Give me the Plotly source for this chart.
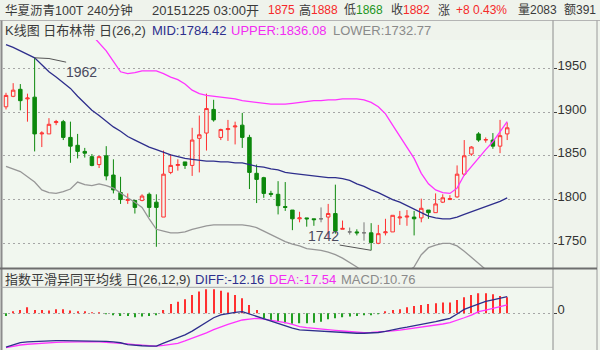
import plotly.graph_objects as go

# ---------------- data ----------------
opens = [1906, 1918, 1926, 1915, 1917, 1875, 1875, 1888, 1889, 1871,
         1862, 1855, 1849, 1840, 1850, 1828, 1808, 1799, 1799, 1799,
         1806, 1797, 1780, 1831, 1839, 1843, 1839, 1870, 1876, 1903,
         1871, 1880, 1883, 1885, 1871, 1830, 1825, 1807, 1806, 1792,
         1788, 1778, 1779, 1778, 1778, 1780, 1784, 1766, 1763, 1763,
         1762, 1762, 1750, 1762, 1763, 1779, 1780, 1780, 1779, 1788,
         1785, 1797, 1800, 1803, 1829, 1852, 1875, 1868, 1868, 1861,
         1875]
highs = [1922, 1933, 1932, 1921, 1962, 1878, 1893, 1891, 1891, 1889,
         1875, 1859, 1852, 1850, 1861, 1846, 1826, 1807, 1799, 1806,
         1808, 1806, 1856, 1852, 1846, 1843, 1882, 1896, 1921, 1914,
         1881, 1891, 1889, 1899, 1874, 1840, 1826, 1810, 1821, 1820,
         1788, 1786, 1779, 1778, 1791, 1795, 1817, 1776, 1768, 1766,
         1774, 1773, 1771, 1778, 1782, 1787, 1788, 1787, 1801, 1788,
         1807, 1806, 1805, 1839, 1868, 1861, 1877, 1871, 1876, 1891,
         1888]
lows = [1903, 1917, 1902, 1889, 1855, 1860, 1875, 1885, 1868, 1842,
        1847, 1848, 1838, 1836, 1822, 1807, 1795, 1795, 1784, 1798,
        1780, 1746, 1780, 1829, 1833, 1835, 1827, 1831, 1856, 1889,
        1868, 1867, 1863, 1859, 1812, 1796, 1802, 1803, 1783, 1787,
        1765, 1774, 1769, 1770, 1774, 1756, 1761, 1766, 1760, 1759,
        1753, 1742, 1749, 1759, 1763, 1771, 1770, 1759, 1774, 1778,
        1785, 1796, 1800, 1802, 1827, 1850, 1866, 1865, 1858, 1853,
        1868]
closes = [1919, 1925, 1913, 1916, 1875, 1876, 1886, 1889, 1871, 1861,
          1855, 1853, 1839, 1849, 1827, 1811, 1800, 1800, 1791, 1804,
          1791, 1791, 1829, 1839, 1840, 1839, 1868, 1874, 1904, 1891,
          1880, 1881, 1884, 1871, 1831, 1823, 1807, 1806, 1793, 1791,
          1778, 1779, 1778, 1777, 1778, 1784, 1764, 1767, 1763, 1762,
          1762, 1751, 1761, 1763, 1782, 1780, 1781, 1778, 1790, 1785,
          1795, 1802, 1801, 1829, 1850, 1860, 1868, 1868.5, 1861, 1873,
          1882]

boll_mid = [1977, 1974, 1970, 1966, 1962, 1954, 1946, 1940, 1933, 1927,
            1918, 1910, 1902, 1896, 1889, 1883, 1878, 1872, 1868, 1864,
            1860, 1857, 1854, 1851, 1849, 1847, 1846, 1845, 1844, 1844,
            1843, 1843, 1842, 1842, 1840, 1838, 1837, 1835, 1834, 1831,
            1830, 1829, 1828, 1827, 1826, 1825, 1825, 1824, 1822, 1818,
            1815, 1811, 1808, 1804, 1800, 1797, 1793, 1789, 1785, 1781,
            1779, 1778, 1778, 1780, 1783, 1786, 1789, 1792, 1795, 1798,
            1802]
boll_upper = [2116, 2110, 2105, 2100, 2095, 2090, 2080, 2065, 2050, 2032,
              2015, 2000, 1988, 1979, 1970, 1958, 1946, 1944, 1945, 1947,
              1947, 1947, 1944, 1940, 1937, 1932, 1925, 1921, 1919, 1918,
              1917, 1916, 1915, 1913, 1912, 1911, 1910, 1909, 1909, 1909,
              1910, 1911, 1912, 1913, 1913, 1914, 1914, 1915, 1915, 1915,
              1914, 1911, 1906, 1898, 1885, 1872, 1860, 1847, 1830, 1818,
              1811, 1808, 1807, 1813, 1828, 1838, 1848, 1857, 1866, 1877,
              1889]
boll_lower = [1838, 1835, 1832, 1826, 1820, 1811, 1808, 1807, 1809, 1812,
              1820, 1817, 1816, 1818, 1816, 1813, 1807, 1802, 1797, 1791,
              1778, 1766, 1764, 1762, 1762, 1763, 1766, 1768, 1770, 1771,
              1771, 1771, 1771, 1771, 1770, 1768, 1764, 1760, 1756, 1752,
              1749, 1747, 1744, 1743, 1742, 1740, 1737, 1733, 1728, 1723,
              1716, 1712, 1709, 1708, 1710, 1713, 1717, 1723, 1737, 1745,
              1748, 1750, 1750, 1747, 1741, 1734, 1726, 1720, 1715, 1711,
              1708]

diff_line = [-22.8, -21.2, -19.7, -19.2, -18.9, -18.6, -18.4, -18.4, -18.3, -18.3,
             -18.4, -18.4, -18.4, -18.5, -18.8, -19.2, -19.8, -21.0, -21.6, -21.8,
             -22.0, -22.0, -20.0, -18.2, -16.5, -14.5, -12.0, -9.0, -5.6, -3.0,
             -1.0, 0.0, 0.6, 1.1, -0.5, -2.2, -3.8, -5.3, -7.0, -8.5,
             -10.0, -11.2, -11.5, -11.8, -12.0, -12.4, -12.8, -13.1, -13.4, -13.4,
             -13.4, -13.4, -12.9, -12.2, -11.0, -10.1, -9.3, -8.5, -7.6, -6.8,
             -5.6, -4.5, -3.4, -0.5, 2.6, 4.5, 6.5, 8.0, 9.0, 10.0,
             11.2]
dea_line = [-23.0, -22.0, -21.3, -20.8, -20.4, -20.0, -19.8, -19.6, -19.4, -19.2,
            -19.0, -19.0, -19.1, -19.2, -19.4, -19.6, -20.0, -20.5, -21.0, -21.5,
            -21.8, -22.0, -21.5, -20.8, -20.2, -18.6, -16.8, -15.2, -13.2, -11.0,
            -9.0, -7.5, -6.0, -4.5, -3.9, -3.4, -3.9, -4.6, -5.4, -6.3,
            -7.5, -9.0, -9.6, -10.2, -10.7, -11.1, -11.5, -11.9, -12.3, -12.7,
            -13.0, -12.8, -12.6, -12.3, -11.8, -11.3, -10.7, -10.1, -9.4, -8.7,
            -8.1, -7.2, -6.2, -4.8, -3.0, -1.2, 1.1, 2.2, 3.3, 4.5,
            5.6]
macd_hist = [-1.8, 1.1, 2.2, 4.0, 2.2, 2.2, 1.8, 2.7, 2.7, 1.8,
             1.1, 0.7, 0.2, 0.2, -0.2, -0.7, -1.8, -1.8, -2.7, -2.2,
             -1.8, -1.1, 2.2, 6.3, 7.8, 9.4, 12.3, 14.6, 16.1, 16.1,
             15.2, 13.9, 12.3, 10.1, 5.6, 2.2, -3.4, -4.5, -5.6, -6.7,
             -7.0, -6.7, -6.7, -6.3, -5.6, -4.0, -3.4, -2.7, -2.2, -1.8,
             -1.1, -0.7, -0.4, 0.7, 2.2, 2.7, 4.0, 4.9, 5.6, 6.3,
             6.7, 7.2, 7.2, 9.0, 10.8, 12.3, 13.4, 13.4, 12.8, 11.6,
             10.8]

price_ticks = [1750, 1800, 1850, 1900, 1950]
price_tick_labels = ["1750", "1800", "1850", "1900", "1950"]
macd_ticks = [0]
macd_tick_labels = ["0"]

header_parts = [  # (text, colour key, left x in px, font size)
    ("华夏沥青100T", "txt", 3, 12.5), ("240分钟", "txt", 85, 12.5),
    ("20151225 03:00开", "txt", 150, 13), ("1875", "red", 266, 12),
    ("高", "txt", 297, 12), ("1888", "red", 309, 12), ("低", "txt", 342, 12),
    ("1868", "green", 354, 12), ("收", "txt", 389, 12), ("1882", "red", 401, 12),
    ("涨", "txt", 436, 12), ("+8 0.43%", "red", 454, 12), ("量2083", "txt", 516, 12),
    ("额391", "txt", 562, 12),
]
boll_parts = [
    ("K线图 日布林带 日(26,2)", "txt", 3, 13), ("MID:1784.42", "navy", 150, 13),
    ("UPPER:1836.08", "mag", 229, 13), ("LOWER:1732.77", "gray", 331, 13),
]
macd_parts = [
    ("指数平滑异同平均线 日(26,12,9)", "txt", 3, 13), ("DIFF:-12.16", "navy", 193, 13),
    ("DEA:-17.54", "mag", 267, 13), ("MACD:10.76", "gray", 339, 13),
]

# ---------------- styles ----------------
W, H = 600, 350
BG = "#EFF3EC"
PLOT_BG = "#F1F7EF"
COL = {"txt": "#3A3A3A", "red": "#F52A2A", "green": "#1E961E",
       "navy": "#2E2E8C", "mag": "#F22CF2", "gray": "#8A8A8A"}
C_UP = "#FF3030"
C_DN = "#0C880C"
C_FLAT = "#7A7A7A"
FONT = "Liberation Sans, Noto Sans CJK SC, sans-serif"

n = len(closes)
xs = list(range(n))

fig = go.Figure()


def add_candles(idx, color, fill):
    fig.add_trace(go.Candlestick(
        x=[xs[i] for i in idx], open=[opens[i] for i in idx],
        high=[highs[i] for i in idx], low=[lows[i] for i in idx],
        close=[closes[i] for i in idx],
        increasing=dict(line=dict(color=color, width=1), fillcolor=fill),
        decreasing=dict(line=dict(color=color, width=1), fillcolor=fill),
        whiskerwidth=0, xaxis="x", yaxis="y", hoverinfo="skip"))


up_idx = [i for i in xs if closes[i] > opens[i]]
dn_idx = [i for i in xs if closes[i] < opens[i]]
fl_idx = [i for i in xs if closes[i] == opens[i]]
add_candles(up_idx, C_UP, PLOT_BG)
add_candles(dn_idx, C_DN, C_DN)
if fl_idx:
    add_candles(fl_idx, C_FLAT, C_FLAT)

fig.add_trace(go.Scatter(x=xs, y=boll_lower, mode="lines",
                         line=dict(color="#979797", width=1.3), xaxis="x", yaxis="y"))
fig.add_trace(go.Scatter(x=xs, y=boll_mid, mode="lines",
                         line=dict(color=COL["navy"], width=1.3), xaxis="x", yaxis="y"))
fig.add_trace(go.Scatter(x=xs, y=boll_upper, mode="lines",
                         line=dict(color="#FF33FF", width=1.3), xaxis="x", yaxis="y"))

# high / low markers with leader lines
hi_i = max(xs, key=lambda i: highs[i])
lo_i = min(xs, key=lambda i: lows[i])
fig.add_trace(go.Scatter(
    x=[hi_i, hi_i + 2, hi_i + 4.4], y=[highs[hi_i], highs[hi_i] - 0.8, highs[hi_i] - 5],
    mode="lines", line=dict(color="#555555", width=1), xaxis="x", yaxis="y"))
fig.add_trace(go.Scatter(
    x=[lo_i - 4.4, lo_i], y=[lows[lo_i] + 6, lows[lo_i]],
    mode="lines", line=dict(color="#555555", width=1), xaxis="x", yaxis="y"))

# MACD panel
fig.add_trace(go.Bar(x=xs, y=macd_hist, width=0.16,
                     marker=dict(color=[C_UP if v > 0 else "#22A022" for v in macd_hist],
                                 line=dict(width=0)),
                     xaxis="x", yaxis="y2"))
fig.add_trace(go.Scatter(x=xs, y=dea_line, mode="lines",
                         line=dict(color="#FF33FF", width=1.3), xaxis="x", yaxis="y2"))
fig.add_trace(go.Scatter(x=xs, y=diff_line, mode="lines",
                         line=dict(color=COL["navy"], width=1.3), xaxis="x", yaxis="y2"))

# ---------------- layout ----------------
x_left, x_right = 3, 553
first_px, step_px = 6, 7.16
main_top, main_bot = 40, 268
macd_top = 287.3

ann = []
for parts, ypx in ((header_parts, 10), (boll_parts, 30), (macd_parts, 279)):
    for text, ck, xpx, fs in parts:
        ann.append(dict(text=text, x=xpx / W, y=1 - ypx / H, xref="paper", yref="paper",
                        xanchor="left", yanchor="middle", showarrow=False,
                        font=dict(family=FONT, size=fs, color=COL[ck])))
ann.append(dict(text=str(int(highs[hi_i])), x=hi_i + 6.6, y=highs[hi_i] - 16, xref="x", yref="y",
                showarrow=False, font=dict(family=FONT, size=14, color="#4A4A5E")))
ann.append(dict(text=str(int(lows[lo_i])), x=lo_i - 6.7, y=lows[lo_i] + 16, xref="x", yref="y",
                showarrow=False, font=dict(family=FONT, size=14, color="#4A4A5E")))

shapes = []


def hline(ypx, x0, x1, color, w):
    shapes.append(dict(type="line", xref="paper", yref="paper", x0=x0 / W, x1=x1 / W,
                       y0=1 - ypx / H, y1=1 - ypx / H, line=dict(color=color, width=w)))


def vline(xpx, y0, y1, color, w):
    shapes.append(dict(type="line", xref="paper", yref="paper", x0=xpx / W, x1=xpx / W,
                       y0=1 - y0 / H, y1=1 - y1 / H, line=dict(color=color, width=w)))


hline(20.5, 0, 600, "#B4B4B4", 1)
vline(1.5, 20.5, 350, "#8C8C8C", 2)
vline(553, 20.5, 350, "#8C8C8C", 1)
vline(597, 20.5, 350, "#9A9A9A", 1)
hline(268.5, 0, 597, "#6E6E6E", 2)
hline(287.3, 1.5, 553, "#A8A8A8", 1)

rng_x = [-(first_px - x_left) / step_px, (x_right - first_px) / step_px]
main_rng = [1750 - (main_bot - 243.3) / 0.875, 1950 + (68.3 - main_top) / 0.875]
macd_scale = 0.672  # units per pixel
macd_rng = [-(H - 313.3) * macd_scale, (313.3 - macd_top) * macd_scale]

axis_font = dict(family=FONT, size=13, color="#333333")
fig.update_layout(
    width=W, height=H, margin=dict(l=0, r=0, t=0, b=0),
    paper_bgcolor=BG, plot_bgcolor=PLOT_BG, showlegend=False,
    annotations=ann, shapes=shapes,
    xaxis=dict(domain=[x_left / W, x_right / W], range=rng_x, visible=False,
               rangeslider=dict(visible=False), anchor="y"),
    yaxis=dict(domain=[(H - main_bot) / H, (H - main_top) / H], range=main_rng,
               side="right", anchor="x", tickvals=price_ticks, ticktext=price_tick_labels,
               ticks="outside", ticklen=3, tickcolor="#404040", tickfont=axis_font,
               ticklabelshift=-3, ticklabelstandoff=-2,
               showgrid=True, gridcolor="#A6A6A6", griddash="2px,3px",
               gridwidth=1, zeroline=False, showline=False),
    yaxis2=dict(domain=[0, (H - macd_top) / H], range=macd_rng,
                side="right", anchor="x", tickvals=macd_ticks, ticktext=macd_tick_labels,
                ticks="outside", ticklen=3, tickcolor="#404040", tickfont=axis_font,
                ticklabelshift=-4, ticklabelstandoff=-2,
                showgrid=True, gridcolor="#A6A6A6", griddash="2px,3px",
                gridwidth=1, zeroline=False, showline=False),
)

fig.write_html("out.html")
